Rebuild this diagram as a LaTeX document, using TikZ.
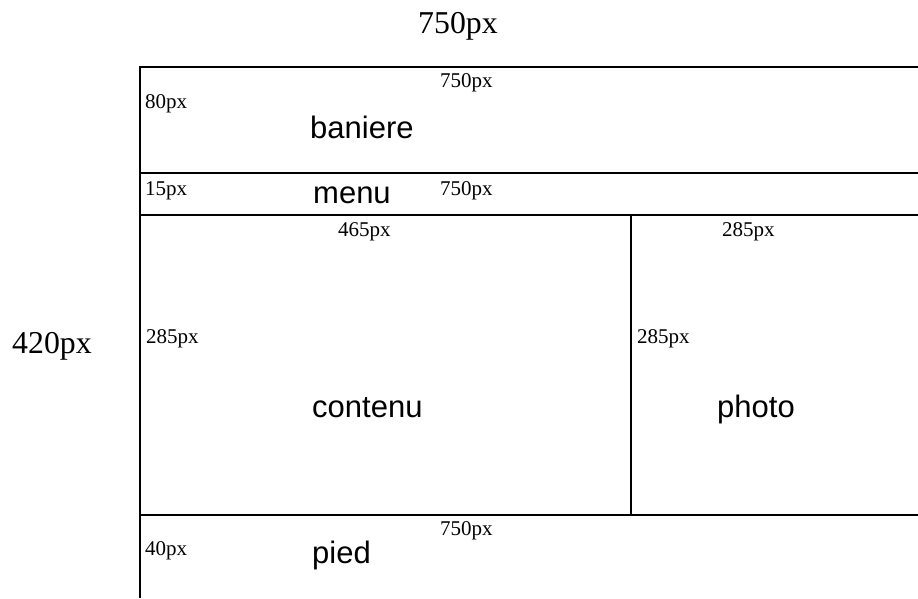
\documentclass[tikz,border=0pt]{standalone}
\usepackage{fontspec}
\setmainfont{Liberation Serif}
\newfontfamily\arialf{Liberation Sans}
\begin{document}
\begin{tikzpicture}[x=1pt,y=-1pt,
  dimlbl/.style={anchor=base west,inner sep=0pt,font=\fontsize{21}{21}\selectfont},
  biglbl/.style={anchor=base west,inner sep=0pt,font=\fontsize{31.8}{31.8}\selectfont},
  zonelbl/.style={anchor=base west,inner sep=0pt,font=\arialf\fontsize{31}{31}\selectfont},
  rulel/.style={line width=2pt,black}]
\useasboundingbox (0,0) rectangle (918,598);
% frame coordinates
\coordinate (tl) at (140,67);
\coordinate (tr) at (918,67);
\coordinate (bl) at (140,598);
\coordinate (m1l) at (140,173);
\coordinate (m1r) at (918,173);
\coordinate (c1l) at (140,215);
\coordinate (c1r) at (918,215);
\coordinate (p1l) at (140,515);
\coordinate (p1r) at (918,515);
\coordinate (vt) at (631,215);
\coordinate (vb) at (631,515);
\draw[rulel] (tr) -- (tl) -- (bl);
\draw[rulel] (m1l) -- (m1r);
\draw[rulel] (c1l) -- (c1r);
\draw[rulel] (p1l) -- (p1r);
\draw[rulel] (vt) -- (vb);
% outer dimensions
\node[biglbl] (wtitle) at (418,33) {750px};
\node[biglbl] (htitle) at (12,353) {420px};
% baniere
\node[dimlbl] (bw) at (440,87) {750px};
\node[dimlbl] (bh) at (145,108) {80px};
\node[zonelbl] (ban) at (310,138) {baniere};
% menu
\node[dimlbl] (mh) at (145,195) {15px};
\node[zonelbl] (men) at (313,203) {menu};
\node[dimlbl] (mw) at (440,195) {750px};
% contenu
\node[dimlbl] (cw) at (338,236) {465px};
\node[dimlbl] (ch) at (146,343) {285px};
\node[zonelbl] (cont) at (312,417) {contenu};
% photo
\node[dimlbl] (pw) at (722,236) {285px};
\node[dimlbl] (ph) at (637,343) {285px};
\node[zonelbl] (phot) at (717,417) {photo};
% pied
\node[dimlbl] (fw) at (440,535) {750px};
\node[dimlbl] (fh) at (145,555) {40px};
\node[zonelbl] (pied) at (312,563) {pied};
\end{tikzpicture}
\end{document}
